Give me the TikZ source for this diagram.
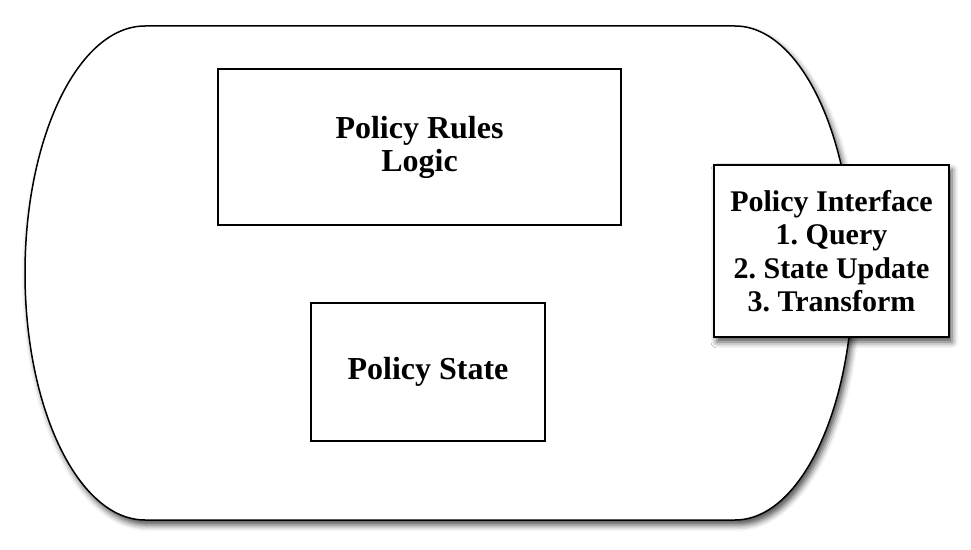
\documentclass[tikz,border=0pt]{standalone}
\usepackage{fontspec}
\setmainfont{Liberation Serif}
\usetikzlibrary{shadows.blur}
\frenchspacing
\tikzset{
  outline/.style={draw=black, line width=1.5pt, fill=white},
  softshadow/.style={blur shadow={shadow xshift=3pt, shadow yshift=-5pt, shadow blur radius=6pt, shadow opacity=70}},
  plainbox/.style={outline, rectangle, align=center, inner sep=0pt,
    font=\fontsize{32pt}{33pt}\selectfont\bfseries},
  ifacebox/.style={plainbox, softshadow,
    font=\fontsize{30pt}{33.5pt}\selectfont\bfseries}
}
\begin{document}
\begin{tikzpicture}[x=1pt,y=1pt]
\useasboundingbox (0,0) rectangle (971,549);
% stadium-shaped container
\draw[outline, softshadow]
  (145,523) -- (735,523)
  arc[start angle=90, end angle=-90, x radius=118pt, y radius=247pt]
  -- (145,29)
  arc[start angle=-90, end angle=-270, x radius=120pt, y radius=247pt]
  -- cycle;
\node[plainbox, minimum width=403pt, minimum height=156pt] (rules) at (419.5,402) {Policy Rules\\Logic};
\node[plainbox, minimum width=234pt, minimum height=138pt] (state) at (428,177) {\raisebox{-3pt}{Policy State}};
\node[ifacebox, minimum width=235pt, minimum height=172pt] (iface) at (831.5,298)
  {Policy Interface\\1. Query\\2. State Update\\3. Transform};
\end{tikzpicture}
\end{document}
